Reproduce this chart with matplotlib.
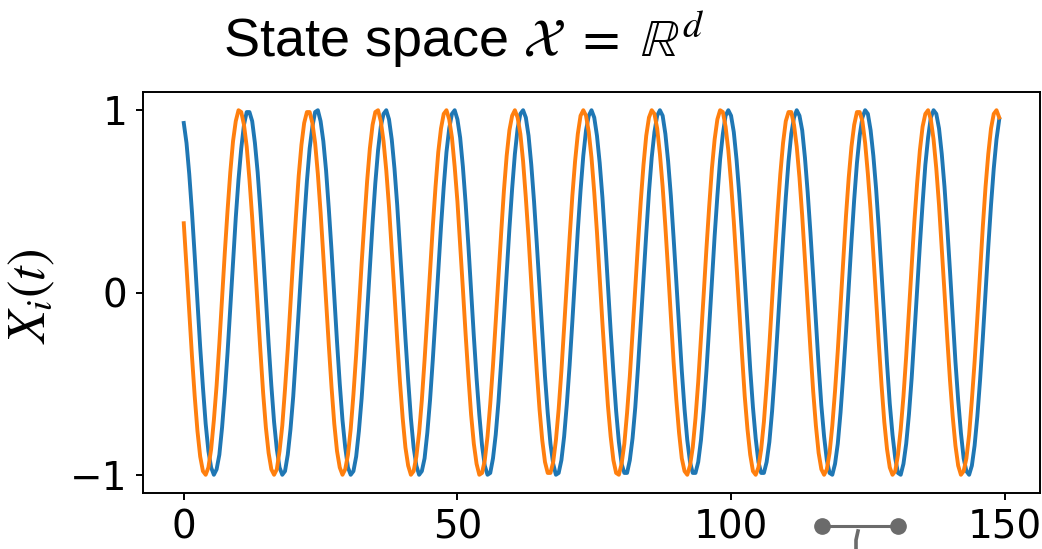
import matplotlib
matplotlib.use('Agg')
import matplotlib.pyplot as plt
from matplotlib.lines import Line2D
import numpy as np

# trajectories of the two state coordinates, sampled every 0.5 time units,
# stored in hundredths
dt = 0.5
blue_x100 = [93, 82, 65, 44, 20, -5, -30, -52, -72, -87, -96, -100, -97, -89, -74, -55, -33, -8, 17, 41,
             62, 79, 92, 99, 99, 94, 82, 66, 45, 22, -3, -28, -51, -71, -86, -96, -100, -98, -89, -75,
             -57, -34, -10, 15, 39, 61, 79, 91, 99, 100, 94, 83, 67, 46, 23, -2, -27, -50, -70, -85,
             -96, -100, -98, -90, -76, -58, -36, -11, 14, 38, 60, 78, 91, 98, 100, 95, 84, 68, 48, 24,
             0, -25, -48, -69, -85, -95, -100, -98, -91, -77, -59, -37, -13, 12, 36, 58, 77, 90, 98, 100,
             95, 85, 69, 49, 26, 1, -24, -47, -67, -84, -95, -100, -99, -91, -78, -60, -38, -14, 11, 35,
             57, 76, 90, 98, 100, 96, 86, 70, 50, 27, 3, -22, -46, -66, -83, -94, -100, -99, -92, -79,
             -61, -40, -16, 9, 34, 56, 75, 89, 97, 100, 96, 86, 71, 52, 29, 4, -21, -44, -65, -82,
             -94, -99, -99, -92, -80, -63, -41, -17, 8, 32, 55, 74, 88, 97, 100, 97, 87, 72, 53, 30,
             6, -19, -43, -64, -81, -93, -99, -99, -93, -81, -64, -43, -19, 6, 31, 53, 73, 87, 97, 100,
             97, 88, 73, 54, 32, 7, -18, -42, -63, -80, -93, -99, -99, -93, -82, -65, -44, -20, 5, 29,
             52, 72, 87, 96, 100, 97, 89, 74, 55, 33, 9, -16, -40, -62, -79, -92, -99, -100, -94, -83,
             -66, -45, -22, 3, 28, 51, 71, 86, 96, 100, 98, 89, 75, 57, 35, 10, -15, -39, -61, -78,
             -91, -99, -100, -94, -83, -67, -47, -23, 2, 26, 49, 70, 85, 96, 100, 98, 90, 76, 58, 36,
             12, -13, -38, -59, -77, -91, -98, -100, -95, -84, -68, -48, -25, 0, 25, 48, 68, 84, 95]
orange_x100 = [38, 14, -11, -35, -57, -76, -90, -98, -100, -96, -86, -70, -51, -28, -3, 22, 45, 66, 83, 94,
               100, 99, 92, 80, 62, 41, 17, -8, -32, -55, -74, -88, -97, -100, -97, -87, -73, -53, -31, -6,
               19, 42, 64, 81, 93, 99, 99, 93, 82, 65, 44, 20, -5, -29, -52, -72, -87, -96, -100, -97,
               -89, -75, -56, -34, -9, 16, 39, 61, 79, 92, 99, 100, 94, 83, 67, 47, 23, -1, -26, -49,
               -69, -85, -95, -100, -98, -90, -77, -59, -37, -13, 12, 36, 58, 77, 90, 98, 100, 95, 85, 69,
               50, 26, 2, -23, -46, -67, -83, -94, -100, -99, -92, -79, -61, -40, -16, 9, 33, 56, 75, 89,
               97, 100, 96, 87, 72, 52, 30, 5, -20, -43, -64, -81, -93, -99, -99, -93, -81, -64, -43, -19,
               6, 30, 53, 72, 87, 97, 100, 97, 88, 74, 55, 33, 8, -17, -40, -62, -79, -92, -99, -100,
               -94, -83, -66, -46, -22, 3, 27, 50, 70, 86, 96, 100, 98, 90, 76, 58, 36, 12, -13, -38,
               -59, -77, -91, -98, -100, -95, -85, -69, -49, -25, -1, 24, 47, 68, 84, 95, 100, 99, 91, 78,
               60, 39, 15, -10, -34, -57, -75, -89, -98, -100, -96, -86, -71, -51, -29, -4, 21, 44, 65, 82,
               94, 99, 99, 92, 80, 63, 42, 18, -7, -31, -54, -73, -88, -97, -100, -97, -88, -73, -54, -32,
               -7, 18, 42, 63, 80, 92, 99, 99, 94, 82, 65, 45, 21, -4, -28, -51, -71, -86, -96, -100,
               -98, -89, -75, -57, -35, -10, 15, 39, 60, 78, 91, 98, 100, 95, 84, 68, 48, 24, 0, -25,
               -48, -68, -84, -95, -100, -98, -91, -78, -59, -38, -14, 11, 36, 58, 76, 90, 98, 100, 96]
x_ticks = [0, 50, 100, 150]
y_ticks = [-1, 0, 1]

blue = np.array(blue_x100) / 100
orange = np.array(orange_x100) / 100
t_blue = np.arange(len(blue)) * dt
t_orange = np.arange(len(orange)) * dt

plt.rcParams['mathtext.fontset'] = 'stix'

fig = plt.figure(figsize=(10.42, 5.49), dpi=100)
ax = fig.add_axes([143 / 1042, 1 - 493 / 549, (1040 - 143) / 1042, (493 - 92) / 549])
ax.plot(t_blue, blue, color='#1f77b4', lw=2.8)
ax.plot(t_orange, orange, color='#ff7f0e', lw=2.8)
ax.set_xticks(x_ticks)
ax.set_yticks(y_ticks)
ax.tick_params(labelsize=28, width=1.4, length=5, pad=6)
for s in ax.spines.values():
    s.set_linewidth(1.4)

fig.text(31 / 1042, 1 - 296 / 549, '$X_i(t)$', fontsize=38, rotation=90,
         ha='center', va='center')
fig.text(464 / 1042, 1 - 40 / 549, 'State space $\\mathcal{X}\\ =\\ \\mathbb{R}^d$',
         family='Liberation Sans', fontsize=39, ha='center', va='center')

# little connector drawn under the axis
grey = '#6b6b6b'
fig.add_artist(Line2D([822 / 1042, 898 / 1042], [1 - 526 / 549] * 2, color=grey, lw=2.2,
                      marker='o', ms=11, transform=fig.transFigure))
fig.add_artist(Line2D([858 / 1042, 856 / 1042, 856 / 1042], [1 - 531 / 549, 1 - 540 / 549, 0],
                      color=grey, lw=2.6, transform=fig.transFigure))

fig.savefig('out.png', dpi=100)
